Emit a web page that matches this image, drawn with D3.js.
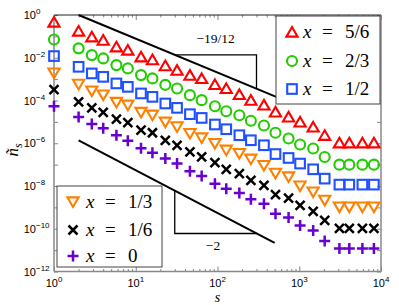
<!DOCTYPE html>
<html><head><meta charset="utf-8">
<script src="https://cdn.jsdelivr.net/npm/d3@7"></script>
<style>body{margin:0;background:#fff;} svg{display:block;}</style>
</head><body>
<svg id="c" width="399" height="305"></svg>
<script>
// ---- data ----
const sizes = [1,2,2.9,4,5.8,8,11.6,16,23,32,46,64,93,128,185,256,370,512,740,1024,1480,2048,3100,4096,5920,8192];
const nX56 = [0.47,0.178,9.6e-2,6.7e-2,3.27e-2,2.29e-2,1.11e-2,8.2e-3,4.3e-3,2.64e-3,1.54e-3,1.08e-3,5.65e-4,3.67e-4,1.92e-4,1.04e-4,6.24e-5,2.93e-5,1.71e-5,9.96e-6,5.81e-6,2.37e-6,1.05e-6,1.05e-6,1.05e-6,1.05e-6];
const nX23 = [7.1e-2,2.75e-2,1.33e-2,9.3e-3,4.53e-3,3.17e-3,1.54e-3,1.08e-3,5.4e-4,3.67e-4,1.78e-4,1.04e-4,5.42e-5,3.16e-5,2.05e-5,1.13e-5,6.76e-6,3.1e-6,1.66e-6,8.69e-7,5.65e-7,2.28e-7,1.0e-7,1.0e-7,1.0e-7,1.0e-7];
const nX12 = [1.2e-2,3.77e-3,1.85e-3,1.28e-3,6.29e-4,4.36e-4,2.14e-4,1.48e-4,7.26e-5,4.52e-5,2.29e-5,1.53e-5,7.53e-6,4.53e-6,2.37e-6,1.38e-6,8.05e-7,3.12e-7,2.05e-7,1.12e-7,6.04e-8,2.21e-8,1.16e-8,1.16e-8,1.16e-8,1.16e-8];
const nX13 = [1.91e-3,5.65e-4,2.74e-4,1.78e-4,8.09e-5,6.04e-5,2.75e-5,2.05e-5,9.64e-6,5.81e-6,2.85e-6,1.77e-6,9.68e-7,4.7e-7,3.29e-7,1.78e-7,9.02e-8,3.93e-8,2.63e-8,9.95e-9,5.21e-9,2.13e-9,1.03e-9,1.03e-9,1.03e-9,1.03e-9];
const nX16 = [3.22e-4,8.63e-5,4.52e-5,2.75e-5,1.33e-5,9.33e-6,4.07e-6,3.1e-6,1.38e-6,8.05e-7,3.91e-7,2.28e-7,1.25e-7,6.04e-8,3.8e-8,1.84e-8,1.07e-8,3.94e-9,2.73e-9,1.24e-9,6.49e-10,2.46e-10,1.04e-10,1.04e-10,1.04e-10,1.04e-10];
const nX0  = [5.42e-5,1.71e-5,8.03e-6,5.05e-6,2.37e-6,1.31e-6,5.82e-7,3.58e-7,1.92e-7,1.12e-7,4.86e-8,2.9e-8,1.29e-8,7.53e-9,4.68e-9,2.37e-9,1.49e-9,5.07e-10,3.33e-10,1.43e-10,8.35e-11,2.69e-11,1.2e-11,1.2e-11,1.2e-11,1.2e-11];
const seriesLabels = ["5/6","2/3","1/2","1/3","1/6","0"];
const xTicks = [1,10,100,1000,10000];
const xTickExp = ["0","1","2","3","4"];
const yTicks = [1,1e-2,1e-4,1e-6,1e-8,1e-10,1e-12];
const yTickExp = ["0","\u22122","\u22124","\u22126","\u22128","\u221210","\u221212"];
const slopeExponents = [-19/12, -2];
const slopeLabels = ["\u221219/12", "\u22122"];

// ---- setup ----
const svg = d3.select("#c");
const L = 54, R = 381, T = 15, B = 271.5;
const x = d3.scaleLog().domain([1, 1e4]).range([L, R]);
const y = d3.scaleLog().domain([1e-12, 1]).range([B, T]);

const series = [
  {vals: nX56, color: "#ff0000", marker: "tri"},
  {vals: nX23, color: "#22cc00", marker: "circle"},
  {vals: nX12, color: "#2050ff", marker: "square"},
  {vals: nX13, color: "#ff8000", marker: "tridown"},
  {vals: nX16, color: "#000000", marker: "cross"},
  {vals: nX0,  color: "#6a00d0", marker: "plus"}
];

// ---- axes ----
const minorX = [];
for (let e = 0; e < 4; e++) for (let k = 2; k <= 9; k++) minorX.push(k * Math.pow(10, e));
const decY = d3.range(0, 13).map(e => Math.pow(10, -e));

const axG = svg.append("g");
function addAxis(axisFn, scale, vals, size, tx, ty) {
  const g = axG.append("g").attr("transform", `translate(${tx},${ty})`)
    .call(axisFn(scale).tickValues(vals).tickSizeInner(size).tickSizeOuter(0).tickFormat(""));
  g.select(".domain").remove();
  g.selectAll("line").attr("stroke", "#666").attr("stroke-width", 0.8);
}
addAxis(d3.axisBottom, x, xTicks, -5, 0, B);
addAxis(d3.axisBottom, x, minorX, -2.5, 0, B);
addAxis(d3.axisTop, x, xTicks, -5, 0, T);
addAxis(d3.axisTop, x, minorX, -2.5, 0, T);
addAxis(d3.axisLeft, y, decY, -4, L, 0);
addAxis(d3.axisRight, y, decY, -4, R, 0);

// frame
axG.append("line").attr("x1", L).attr("x2", R).attr("y1", T).attr("y2", T).attr("stroke", "#222").attr("stroke-width", 1);
axG.append("line").attr("x1", R).attr("x2", R).attr("y1", T).attr("y2", B).attr("stroke", "#888").attr("stroke-width", 1.5);
axG.append("line").attr("x1", L).attr("x2", L).attr("y1", T).attr("y2", B).attr("stroke", "#888").attr("stroke-width", 1.5);
axG.append("line").attr("x1", L).attr("x2", R).attr("y1", B).attr("y2", B).attr("stroke", "#888").attr("stroke-width", 1.5);

// tick labels
const tickFont = "'Liberation Sans', Arial, sans-serif";
xTicks.forEach((v, i) => {
  const t = svg.append("text").attr("x", x(v)).attr("y", 286.5).attr("text-anchor", "middle")
    .attr("font-family", tickFont).attr("font-size", 11).attr("fill", "#000").text("10");
  t.append("tspan").attr("dy", -5).attr("font-size", 8).text(xTickExp[i]);
});
yTicks.forEach((v, i) => {
  svg.append("text").attr("x", 36).attr("y", y(v) + 4).attr("text-anchor", "end")
    .attr("font-family", tickFont).attr("font-size", 11).text("10");
  svg.append("text").attr("x", 36).attr("y", y(v) - 1).attr("text-anchor", "start")
    .attr("font-family", tickFont).attr("font-size", 8).text(yTickExp[i]);
});

// axis titles
const serif = "'Liberation Serif', 'DejaVu Serif', serif";
svg.append("text").attr("x", (L + R) / 2).attr("y", 301.5).attr("text-anchor", "middle")
  .attr("font-family", serif).attr("font-style", "italic").attr("font-size", 14).text("s");
const yl = svg.append("text").attr("transform", "translate(18,150) rotate(-90)")
  .attr("text-anchor", "middle").attr("font-family", serif).attr("font-style", "italic").attr("font-size", 17);
yl.append("tspan").text("\u00f1");
yl.append("tspan").attr("dy", 4).attr("font-size", 12).text("s");

// ---- slope guides ----
const guide = svg.append("g");
function guideN(n0, s0, e, s) { return n0 * Math.pow(s / s0, e); }
const gU = {s0: 2, n0: 1, e: slopeExponents[0], s1: 620};
const gL = {s0: 2, n0: 1.35e-6, e: slopeExponents[1], s1: 500};
const triA = 30, triB = 300;
const lineFn = d3.line().x(d => x(d[0])).y(d => y(d[1]));
[gU, gL].forEach(g => {
  guide.append("path").attr("d", lineFn([[g.s0, g.n0], [g.s1, guideN(g.n0, g.s0, g.e, g.s1)]]))
    .attr("stroke", "#000").attr("stroke-width", 2).attr("fill", "none");
});
// upper triangle: horizontal at top, vertical on right
guide.append("path").attr("d", lineFn([
  [triA, guideN(gU.n0, gU.s0, gU.e, triA)], [triB, guideN(gU.n0, gU.s0, gU.e, triA)], [triB, guideN(gU.n0, gU.s0, gU.e, triB)]
])).attr("stroke", "#000").attr("stroke-width", 1.3).attr("fill", "none");
// lower triangle: vertical on left, horizontal at bottom
guide.append("path").attr("d", lineFn([
  [triA, guideN(gL.n0, gL.s0, gL.e, triA)], [triA, guideN(gL.n0, gL.s0, gL.e, triB)], [triB, guideN(gL.n0, gL.s0, gL.e, triB)]
])).attr("stroke", "#000").attr("stroke-width", 1.3).attr("fill", "none");
guide.append("text").attr("x", x(95)).attr("y", y(guideN(gU.n0, gU.s0, gU.e, triA)) - 12)
  .attr("text-anchor", "middle").attr("font-family", serif).attr("font-size", 13.5).text(slopeLabels[0]);
guide.append("text").attr("x", x(88)).attr("y", y(guideN(gL.n0, gL.s0, gL.e, triB)) + 17)
  .attr("text-anchor", "middle").attr("font-family", serif).attr("font-size", 13.5).text(slopeLabels[1]);

// ---- markers ----
function drawMarker(g, type, color, cx, cy) {
  const sw = 2.1;
  if (type === "tri") {
    g.append("path").attr("d", `M${cx},${cy-5}L${cx+5.6},${cy+4.6}L${cx-5.6},${cy+4.6}Z`)
      .attr("fill", "none").attr("stroke", color).attr("stroke-width", sw).attr("stroke-linejoin", "miter");
  } else if (type === "tridown") {
    g.append("path").attr("d", `M${cx},${cy+5}L${cx+5.6},${cy-4.6}L${cx-5.6},${cy-4.6}Z`)
      .attr("fill", "none").attr("stroke", color).attr("stroke-width", sw);
  } else if (type === "circle") {
    g.append("circle").attr("cx", cx).attr("cy", cy).attr("r", 5)
      .attr("fill", "none").attr("stroke", color).attr("stroke-width", sw);
  } else if (type === "square") {
    g.append("rect").attr("x", cx - 4.8).attr("y", cy - 4.8).attr("width", 9.6).attr("height", 9.6)
      .attr("fill", "none").attr("stroke", color).attr("stroke-width", sw);
  } else if (type === "cross") {
    g.append("path").attr("d", `M${cx-4.5},${cy-4.5}L${cx+4.5},${cy+4.5}M${cx-4.5},${cy+4.5}L${cx+4.5},${cy-4.5}`)
      .attr("stroke", color).attr("stroke-width", 2.5);
  } else if (type === "plus") {
    g.append("path").attr("d", `M${cx-5.5},${cy}L${cx+5.5},${cy}M${cx},${cy-5.5}L${cx},${cy+5.5}`)
      .attr("stroke", color).attr("stroke-width", 2.5);
  }
}
const mG = svg.append("g");
series.forEach(sr => {
  sr.vals.forEach((v, i) => drawMarker(mG, sr.marker, sr.color, x(sizes[i]), y(v)));
});

// ---- legends ----
function legend(bx, by, bw, bh, items, mx, tx, ys) {
  const g = svg.append("g");
  g.append("rect").attr("x", bx).attr("y", by).attr("width", bw).attr("height", bh)
    .attr("fill", "#fff").attr("stroke", "#444").attr("stroke-width", 1);
  items.forEach((idx, k) => {
    const sr = series[idx];
    drawMarker(g, sr.marker, sr.color, mx, ys[k]);
    g.append("text").attr("x", tx).attr("y", ys[k] + 6).attr("font-family", serif)
      .attr("font-style", "italic").attr("font-size", 19).text("x");
    g.append("text").attr("x", tx + 19).attr("y", ys[k] + 6).attr("font-family", serif)
      .attr("font-size", 19).text("=");
    g.append("text").attr("x", tx + 42).attr("y", ys[k] + 6).attr("font-family", serif)
      .attr("font-size", 19).text(seriesLabels[idx]);
  });
}
legend(276, 16, 104, 88, [0, 1, 2], 292, 303, [32, 61, 89]);
legend(57, 186, 105, 81, [3, 4, 5], 73, 86, [202, 230, 256]);
</script>
</body></html>
